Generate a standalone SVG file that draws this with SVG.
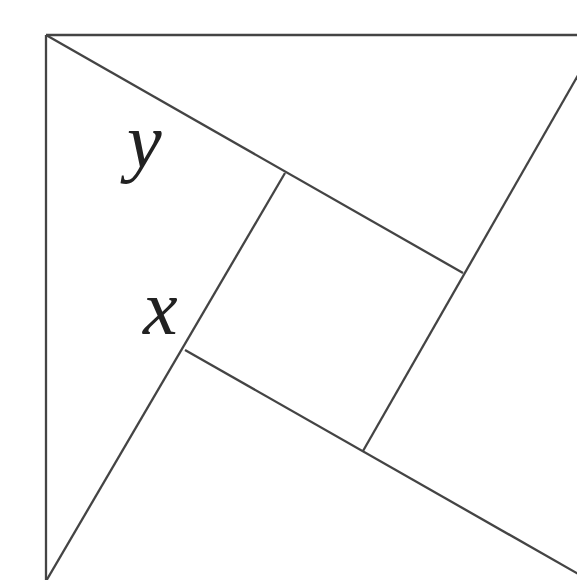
<svg xmlns="http://www.w3.org/2000/svg" width="577" height="580" viewBox="0 0 577 580">
<style>
.ln{stroke:#444444;stroke-width:2.3;fill:none;stroke-linecap:butt}
.lbl{font-family:"Liberation Serif","Times New Roman","DejaVu Serif",serif;font-style:italic;font-size:78px;fill:#222}
</style>
<rect width="577" height="580" fill="#ffffff"/>
<g id="outer-square">
<path class="ln" d="M46,35 H620 M46,35 V600" stroke-width="2.6"/>
</g>
<g id="connectors">
<line class="ln" x1="46" y1="35" x2="463" y2="273"/>
<line class="ln" x1="601" y1="35" x2="363" y2="451"/>
<line class="ln" x1="185" y1="350" x2="610" y2="592"/>
<line class="ln" x1="285" y1="173" x2="42" y2="588"/>
</g>
<g id="label-y"><text class="lbl" x="127" y="167">y</text></g>
<g id="label-x"><text class="lbl" x="143" y="334">x</text></g>
</svg>
